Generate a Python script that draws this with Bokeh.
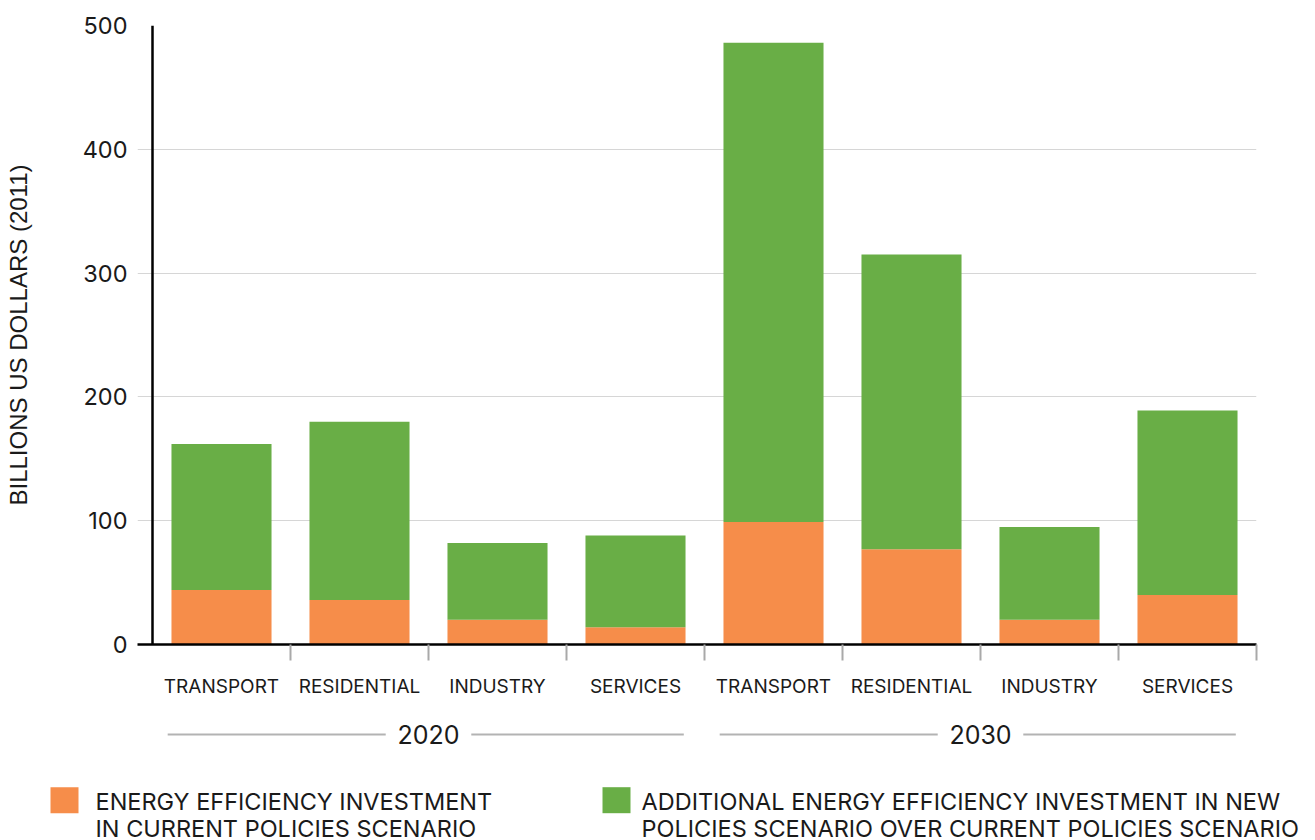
from bokeh.plotting import figure
from bokeh.models import Range1d, FixedTicker, Span, ColumnDataSource
from bokeh.embed import file_html
from bokeh.resources import INLINE
from bokeh.core.properties import value

# ---------------- data ----------------
years = ["2020", "2030"]
sectors = ["TRANSPORT", "RESIDENTIAL", "INDUSTRY", "SERVICES"]
current_policies = [44, 36, 20, 14, 99, 77, 20, 40]        # orange
additional_new_policies = [118, 144, 62, 74, 387, 238, 75, 149]  # green
y_ticks = [0, 100, 200, 300, 400, 500]
y_label = "BILLIONS US DOLLARS (2011)"
legend_lines = [
    ["ENERGY EFFICIENCY INVESTMENT", "IN CURRENT POLICIES SCENARIO"],
    ["ADDITIONAL ENERGY EFFICIENCY INVESTMENT IN NEW",
     "POLICIES SCENARIO OVER CURRENT POLICIES SCENARIO"],
]

ORANGE = "#F68D4A"
GREEN = "#69AE46"
TEXT = "#1a1a1a"
FONT = "Inter"

n = len(years) * len(sectors)
xs = [i + 0.5 for i in range(n)]
labels = [s for _ in years for s in sectors]

src = ColumnDataSource(dict(x=xs, cur=current_policies, add=additional_new_policies))

W = 1310
SLOT = 138.0  # px per category slot
AXIS_X = 152  # px position of the y-axis line (category origin)
p = figure(width=W, height=714,
           x_range=Range1d(-15 / SLOT, n), y_range=Range1d(0, 500),
           output_backend="svg", toolbar_location=None,
           min_border_left=137, min_border_right=W - 1256,
           min_border_top=25, min_border_bottom=70)
p.outline_line_color = None

p.vbar_stack(["cur", "add"], x="x", width=0.725, source=src,
             fill_color=[ORANGE, GREEN], line_color=None)

# grid
p.xgrid.visible = False
p.ygrid.ticker = FixedTicker(ticks=y_ticks)
p.ygrid.grid_line_color = "#d6d6d6"
p.ygrid.grid_line_width = 1

# y axis
p.yaxis.ticker = FixedTicker(ticks=y_ticks)
p.yaxis.axis_line_color = None
p.yaxis.major_tick_line_color = None
p.yaxis.minor_tick_line_color = None
p.yaxis.major_tick_out = 0
p.yaxis.major_tick_in = 0
p.yaxis.major_label_standoff = 10
p.yaxis.major_label_text_font = FONT
p.yaxis.major_label_text_font_size = "23.5px"
p.yaxis.major_label_text_color = TEXT
p.yaxis.axis_label = y_label
p.yaxis.axis_label_text_font = "Liberation Sans"
p.yaxis.axis_label_text_font_size = "24px"
p.yaxis.axis_label_text_font_style = "normal"
p.yaxis.axis_label_text_color = TEXT
p.yaxis.axis_label_standoff = 48

p.add_layout(Span(location=0, dimension="height", line_color="black", line_width=2.5))

# x axis
p.xaxis.ticker = FixedTicker(ticks=xs, minor_ticks=[i + 1 for i in range(n)])
p.xaxis.major_label_overrides = {x: l for x, l in zip(xs, labels)}
p.xaxis.axis_line_color = "black"
p.xaxis.axis_line_width = 2.5
p.xaxis.major_tick_line_color = None
p.xaxis.major_tick_out = 0
p.xaxis.major_tick_in = 0
p.xaxis.minor_tick_line_color = "#a9a9a9"
p.xaxis.minor_tick_line_width = 2
p.xaxis.minor_tick_out = 16
p.xaxis.minor_tick_in = 0
p.xaxis.major_label_standoff = 14
p.xaxis.major_label_text_font = FONT
p.xaxis.major_label_text_font_size = "19px"
p.xaxis.major_label_text_color = TEXT

# ---------------- lower strip: year groups + legend ----------------
H2 = 126
q = figure(width=W, height=H2,
           x_range=Range1d((0 - AXIS_X) / SLOT, (W - AXIS_X) / SLOT),
           y_range=Range1d(H2, 0),
           output_backend="svg", toolbar_location=None,
           min_border_left=0, min_border_right=0, min_border_top=0, min_border_bottom=0)
q.outline_line_color = None
q.axis.visible = False
q.grid.visible = False

group_size = len(sectors)
centers = [g * group_size + group_size / 2 for g in range(len(years))]
x0s, x1s = [], []
for g, c in enumerate(centers):
    start, end = g * group_size + 0.11, (g + 1) * group_size - 0.15
    x0s += [start, c + 0.31]
    x1s += [c - 0.31, end]
q.segment(x0=x0s, y0=[20] * len(x0s), x1=x1s, y1=[20] * len(x1s),
          line_color="#b3b3b3", line_width=2)
q.text(x=centers, y=[20] * len(centers), text=years, text_align="center",
       text_baseline="middle", text_font=value(FONT), text_font_size="25px",
       text_color=TEXT)

# legend
sw_x = [(64 - AXIS_X) / SLOT, (616 - AXIS_X) / SLOT]
q.rect(x=sw_x, y=[85.7] * 2, width=28 / SLOT, height=26,
       fill_color=[ORANGE, GREEN], line_color=None)
tx = [(95 - AXIS_X) / SLOT, (641 - AXIS_X) / SLOT]
for row, yc in enumerate([87, 114]):
    q.text(x=tx, y=[yc] * 2, text=[legend_lines[0][row], legend_lines[1][row]],
           text_align="left", text_baseline="middle",
           text_font=value(FONT), text_font_size="23.5px", text_color=TEXT)

open("out.html", "w").write(file_html([p, q], INLINE))
